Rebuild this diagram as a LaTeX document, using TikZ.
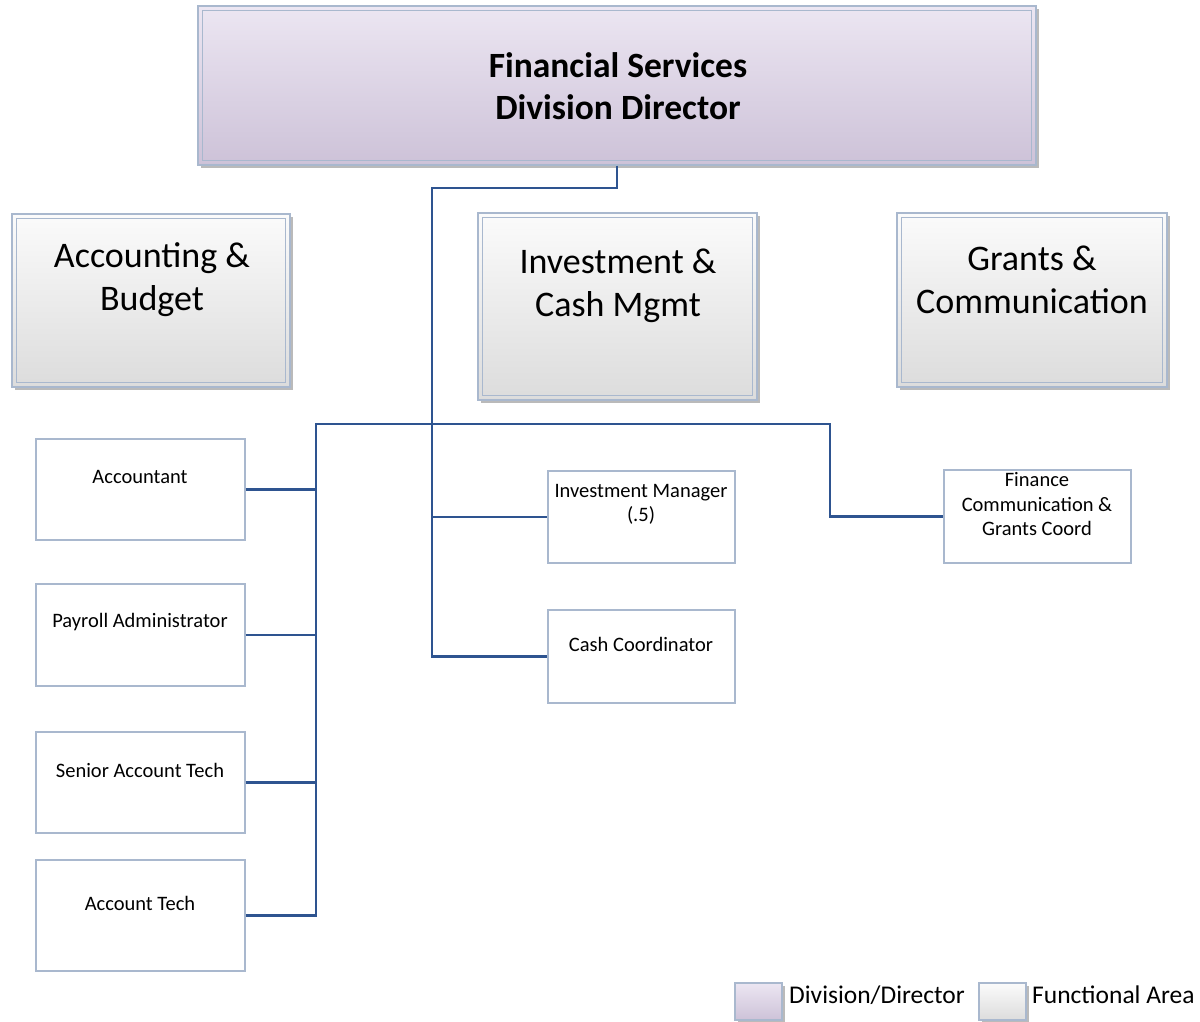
\documentclass[tikz,border=0pt]{standalone}
\usepackage{fontspec}
\setmainfont{Carlito}
\usetikzlibrary{shadows}
\definecolor{boxline}{HTML}{A9B8CE}
\definecolor{conn}{HTML}{2E5490}
\definecolor{purtop}{HTML}{ECE6F2}
\definecolor{purbot}{HTML}{CDC2D8}
\definecolor{graytop}{HTML}{FBFBFB}
\definecolor{graybot}{HTML}{DCDCDC}
\tikzset{
  shad/.style={drop shadow={shadow xshift=3pt, shadow yshift=-3pt, fill=black!45, opacity=.6}},
  dirbox/.style={rectangle, draw=boxline, line width=1.2pt, top color=purtop, bottom color=purbot, shad, inner sep=0pt},
  funbox/.style={rectangle, draw=boxline, line width=1.2pt, top color=graytop, bottom color=graybot, shad, inner sep=0pt},
  innerframe/.style={draw=boxline, line width=1pt},
  posbox/.style={rectangle, draw=boxline, line width=1.1pt, fill=white, inner sep=0pt},
  bigtext/.style={align=center, font=\fontsize{35.5}{42}\selectfont\bfseries, inner sep=0pt},
  funtext/.style={align=center, font=\fontsize{36}{43}\selectfont, inner sep=0pt},
  postext/.style={align=center, font=\fontsize{20.5}{24.5}\selectfont, inner sep=0pt},
  legtext/.style={anchor=west, font=\fontsize{25.5}{28}\selectfont, inner sep=0pt},
  link/.style={draw=conn, line width=2.5pt},
}
\begin{document}
\begin{tikzpicture}[x=1pt, y=-1pt]
\useasboundingbox[fill=white] (0,0) rectangle (1200,1022);

% Director box
\node[dirbox, minimum width=838pt, minimum height=159pt] (dir) at (617,85.5) {};
\draw[innerframe] ([shift={(5,5)}]dir.north west) rectangle ([shift={(-5,-5)}]dir.south east);
\node[bigtext] (dirT) at (618,86) {Financial Services\\Division Director};

% Functional area boxes
\node[funbox, minimum width=278pt, minimum height=173pt] (acc) at (151,300.5) {};
\draw[innerframe] ([shift={(5,5)}]acc.north west) rectangle ([shift={(-5,-5)}]acc.south east);
\node[funtext] (accT) at (152,280) {Accounting \&\\Budget};

\node[funbox, minimum width=279pt, minimum height=187pt] (inv) at (617.5,306.5) {};
\draw[innerframe] ([shift={(5,5)}]inv.north west) rectangle ([shift={(-5,-5)}]inv.south east);
\node[funtext] (invT) at (618,286) {Investment \&\\Cash Mgmt};

\node[funbox, minimum width=270pt, minimum height=174pt] (gra) at (1032,300) {};
\draw[innerframe] ([shift={(5,5)}]gra.north west) rectangle ([shift={(-5,-5)}]gra.south east);
\node[funtext] (graT) at (1032,280) {Grants \&\\Communication};

% Position boxes
\node[posbox, minimum width=209pt, minimum height=101pt] (accnt) at (140.5,489.5) {};
\node[postext] (accntT) at (140,477) {Accountant};
\node[posbox, minimum width=209pt, minimum height=102pt] (pay) at (140.5,635) {};
\node[postext] (payT) at (140,622) {Payroll Administrator};
\node[posbox, minimum width=209pt, minimum height=101pt] (sen) at (140.5,782.5) {};
\node[postext] (senT) at (140,770) {Senior Account Tech};
\node[posbox, minimum width=209pt, minimum height=111pt] (atech) at (140.5,915.5) {};
\node[postext] (atechT) at (140,903) {Account Tech};

\node[posbox, minimum width=187pt, minimum height=92pt] (invm) at (641.5,517) {};
\node[postext] (invmT) at (641,504.5) {Investment Manager\\(.5)};
\node[posbox, minimum width=187pt, minimum height=93pt] (cash) at (641.5,656.5) {};
\node[postext] (cashT) at (641,644) {Cash Coordinator};

\node[posbox, minimum width=187pt, minimum height=93pt] (fin) at (1037.5,516.5) {};
\node[postext] (finT) at (1037,504.5) {Finance\\Communication \&\\Grants Coord};

% Connectors
\coordinate (s1) at (432,188);
\coordinate (hb) at (316,424);
\coordinate (hr) at (830,424);
\draw[link] (dir.south) |- (s1) |- (cash.west);
\draw[link] (s1 |- invm.west) -- (invm.west);
\draw[link] (atech.east) -| (hb) -- (hr) |- (fin.west);
\draw[link] (accnt.east) -- (hb |- accnt.east);
\draw[link] (pay.east) -- (hb |- pay.east);
\draw[link] (sen.east) -- (hb |- sen.east);

% Legend
\node[dirbox, minimum width=47pt, minimum height=37pt] (legD) at (758.5,1001.5) {};
\node[legtext] (legDT) at (789,995) {Division/Director};
\node[funbox, minimum width=47pt, minimum height=37pt] (legF) at (1002.5,1001.5) {};
\node[legtext] (legFT) at (1032,995) {Functional Area};
\end{tikzpicture}
\end{document}
